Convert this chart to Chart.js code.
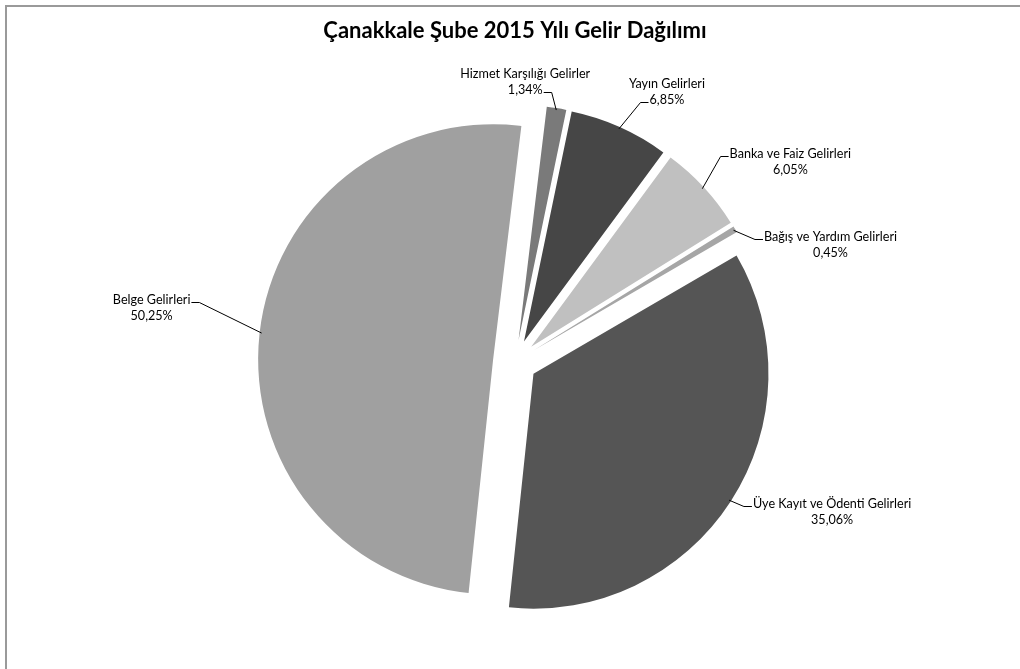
<!DOCTYPE html>
<html>
<head>
<meta charset="utf-8">
<script src="https://cdn.jsdelivr.net/npm/chart.js@4"></script>
<style>
  html, body { margin:0; padding:0; background:#fff; overflow:hidden; }
  #frame { position:absolute; left:5px; top:5px; width:1100px; height:800px; border:2px solid #9a9a9a; }
  #pie { position:absolute; left:0; top:0; }
</style>
</head>
<body>
<div id="frame"></div>
<canvas id="pie" width="1020" height="669"></canvas>
<script>
// === DATA === //
const categories = [
  "Hizmet Karşılığı Gelirler",
  "Yayın Gelirleri",
  "Banka ve Faiz Gelirleri",
  "Bağış ve Yardım Gelirleri",
  "Üye Kayıt ve Ödenti Gelirleri",
  "Belge Gelirleri"
];
const shares = [1.34, 6.85, 6.05, 0.45, 35.06, 50.25];
const sliceColors = ["#7a7a7a", "#464646", "#c0c0c0", "#a6a6a6", "#555555", "#a0a0a0"];

// label placement relative to the slice's outer edge (dx,dy of text centre)
const labelLayout = [
  { dx: -31, dy: -28, side: "right", line: 1 },
  { dx:  48, dy: -37, side: "left",  line: 1 },
  { dx:  88, dy: -27, side: "left",  line: 0 },
  { dx:  97, dy:  15, side: "left",  line: 0 },
  { dx: 103, dy:  12, side: "left",  line: 0 },
  { dx:-110, dy: -25, side: "right", line: 0 }
];

const EXPLODE = 22;   // px every slice is pulled out from the centre
const RADIUS = 235;
const LINE_H = 16;
const FONT = "Lato, 'Open Sans', sans-serif";

const pct = v => v.toFixed(2).replace(".", ",") + "%";

// ---- exploded slices (same shift for all, radius unchanged) ---- //
const explode = {
  id: "explode",
  beforeDatasetsDraw(chart){
    const ctx = chart.ctx;
    chart.getDatasetMeta(0).data.forEach(arc => {
      const mid = (arc.startAngle + arc.endAngle) / 2;
      ctx.save();
      ctx.translate(Math.cos(mid) * EXPLODE, Math.sin(mid) * EXPLODE);
      arc.draw(ctx);
      ctx.restore();
    });
    return false;
  }
};

// ---- labels with leader lines ---- //
const leaderLabels = {
  id: "leaderLabels",
  afterDraw(chart){
    const ctx = chart.ctx;
    const arcs = chart.getDatasetMeta(0).data;
    ctx.save();
    ctx.font = "12.6px " + FONT;
    ctx.fillStyle = "#000";
    ctx.strokeStyle = "#000";
    ctx.lineWidth = 1;
    ctx.textAlign = "center";
    ctx.textBaseline = "middle";

    arcs.forEach((arc, i) => {
      const mid = (arc.startAngle + arc.endAngle) / 2;
      const r = EXPLODE + arc.outerRadius - 2;
      const ax = arc.x + Math.cos(mid) * r;
      const ay = arc.y + Math.sin(mid) * r;

      const lay = labelLayout[i];
      const cx = ax + lay.dx, cy = ay + lay.dy;
      const lines = [categories[i], pct(shares[i])];
      const ys = [cy - LINE_H/2, cy + LINE_H/2];
      ctx.fillText(lines[0], cx, ys[0]);
      ctx.fillText(lines[1], cx, ys[1]);

      const w = ctx.measureText(lines[lay.line]).width;
      const ly = Math.round(ys[lay.line] + 2) + 0.5;
      const sx = lay.side === "left" ? cx - w/2 - 1 : cx + w/2 + 1;
      const ex = lay.side === "left" ? sx - 8 : sx + 8;
      ctx.beginPath();
      ctx.moveTo(sx, ly);
      ctx.lineTo(ex, ly);
      ctx.lineTo(ax, ay);
      ctx.stroke();
    });
    ctx.restore();
  }
};

new Chart(document.getElementById("pie"), {
  type: "pie",
  data: {
    labels: categories,
    datasets: [{
      data: shares,
      backgroundColor: sliceColors,
      borderWidth: 0,
      hoverOffset: 0
    }]
  },
  options: {
    responsive: false,
    animation: false,
    events: [],
    rotation: 6.9,
    radius: RADIUS,
    layout: { padding: { top: 8, left: 10, right: 0, bottom: 0 } },
    plugins: {
      legend: { display: false },
      tooltip: { enabled: false },
      title: {
        display: true,
        text: "Çanakkale Şube 2015 Yılı Gelir Dağılımı",
        color: "#000",
        font: { family: FONT, size: 22, weight: "bold" },
        padding: { top: 10, bottom: 10 }
      }
    }
  },
  plugins: [explode, leaderLabels]
});
</script>
</body>
</html>
